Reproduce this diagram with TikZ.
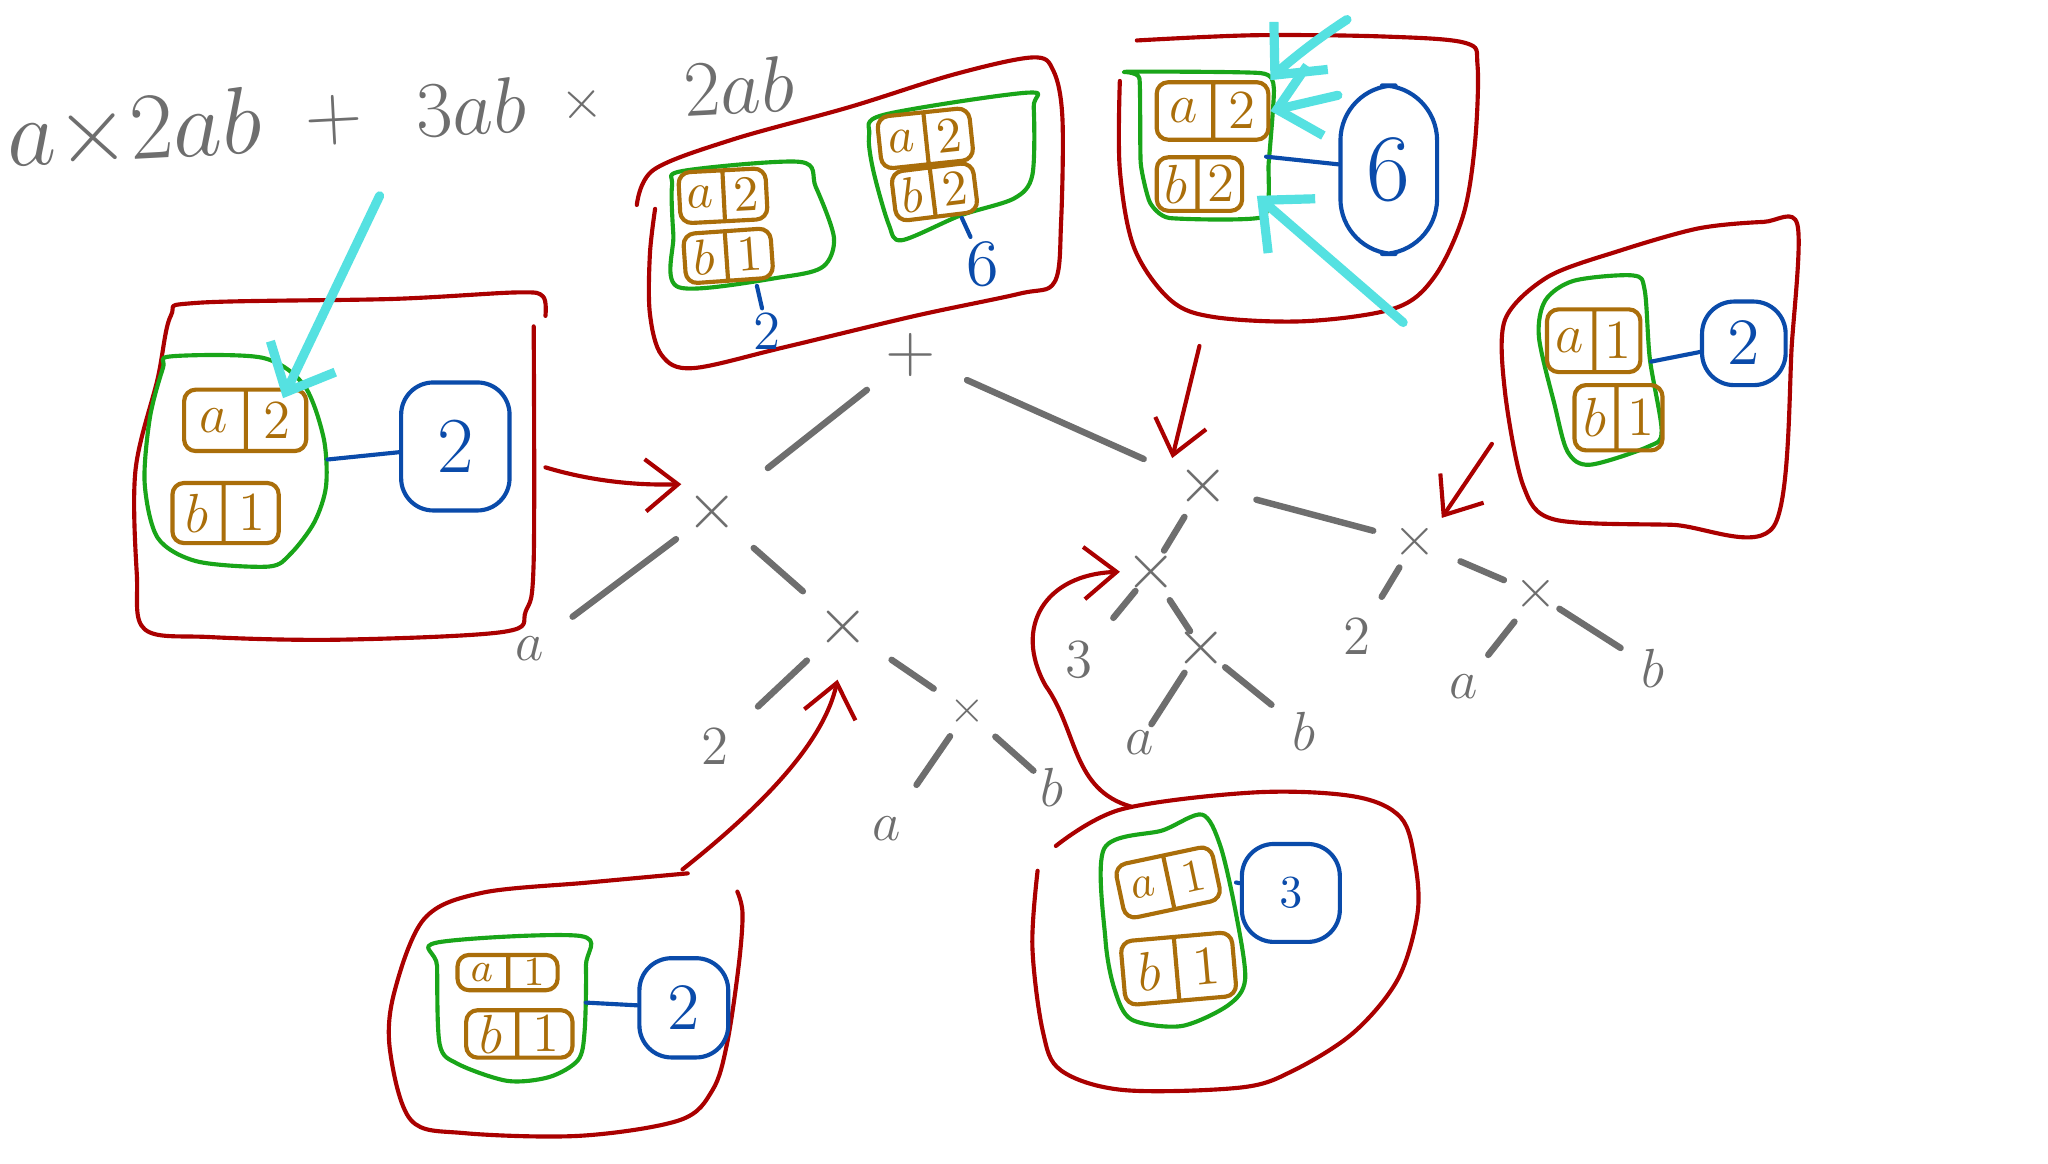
\documentclass[tikz,border=0pt]{standalone}
\usetikzlibrary{arrows.meta,shapes.multipart}

\definecolor{inkred}{RGB}{170,0,0}
\definecolor{inkgreen}{RGB}{25,165,25}
\definecolor{inkbrown}{RGB}{170,110,10}
\definecolor{inkblue}{RGB}{10,75,170}
\definecolor{inkcyan}{RGB}{85,225,225}
\definecolor{inkgray}{RGB}{110,110,110}

\begin{document}
\begin{tikzpicture}
[
	x=0.01cm, y=-0.01cm,
	ink/.style={line width=0.9pt, line cap=round, line join=round},
	expr/.style={text=inkgray, inner sep=1pt, rotate=3, font=\fontsize{18}{18}\selectfont},
	op/.style={text=inkgray, inner sep=1pt, font=\fontsize{15}{15}\selectfont},
	leaf/.style={text=inkgray, inner sep=1pt, font=\fontsize{13}{13}\selectfont},
	branch/.style={draw=inkgray, line width=1.4pt, line cap=round},
	tbl/.style={rectangle split, rectangle split horizontal, rectangle split parts=2,
		draw=inkbrown, text=inkbrown, ink, rounded corners=2.5pt, inner xsep=0.08cm,
		inner ysep=1pt, minimum height=0.42cm, font=\fontsize{12}{12}\selectfont},
	grp/.style={draw=inkgreen, ink},
	wrap/.style={draw=inkred, ink},
	coef/.style={draw=inkblue, text=inkblue, ink, rounded corners=7pt, inner sep=1pt},
	bare/.style={text=inkblue, inner sep=1pt},
	link/.style={draw=inkblue, ink},
	pointer/.style={draw=inkred, ink, -{Straight Barb[length=2.5mm,width=4mm]}},
	hint/.style={draw=inkcyan, line width=2pt, line cap=round, -{Straight Barb[length=3mm,width=5.5mm]}}
]

	\fill[white] (0,0) rectangle (1568,891);

	% expression
	\node[expr, font=\fontsize{21}{21}\selectfont] (e1) at (102,100) {$a{\times}2ab$};
	\node[expr] (e2) at (255,92) {$+$};
	\node[expr] (e3) at (360,82) {$3ab$};
	\node[expr, font=\fontsize{12}{12}\selectfont] (e4) at (445,80) {$\times$};
	\node[expr] (e5) at (565,66) {$2ab$};

	% tree
	\node[op] (plus) at (697,272) {$+$};
	\node[op] (lx) at (545,392) {$\times$};
	\node[op] (rx) at (921,372) {$\times$};
	\node[leaf] (la) at (405,497) {$a$};
	\node[op] (mx) at (645,480) {$\times$};
	\node[leaf] (mtwo) at (547,572) {$2$};
	\node[op, font=\fontsize{10}{10}\selectfont] (sx) at (740,545) {$\times$};
	\node[leaf] (sa) at (678,635) {$a$};
	\node[leaf] (sb) at (805,603) {$b$};
	\node[op] (lox) at (881,438) {$\times$};
	\node[leaf] (three) at (826,505) {$3$};
	\node[op] (kx) at (919,496) {$\times$};
	\node[leaf] (ka) at (872,569) {$a$};
	\node[leaf] (kb) at (998,560) {$b$};
	\node[op, font=\fontsize{12}{12}\selectfont] (qx) at (1083,415) {$\times$};
	\node[leaf] (qtwo) at (1039,488) {$2$};
	\node[op, font=\fontsize{12}{12}\selectfont] (wx) at (1176,455) {$\times$};
	\node[leaf] (wa) at (1120,526) {$a$};
	\node[leaf] (wb) at (1265,512) {$b$};

	\foreach \a/\b/\s/\e in {plus/lx/4.3/5.4, plus/rx/4.7/5.0, lx/la/3.5/4.1, lx/mx/4.2/4.1,
		mx/mtwo/3.8/4.5, mx/sx/4.5/3.1, sx/sa/2.3/4.1, sx/sb/2.9/1.9,
		rx/lox/2.8/1.9, rx/qx/4.2/3.3, lox/three/1.9/4.1, lox/kx/2.6/1.5,
		kx/ka/2.3/1.7, kx/kb/2.4/3.2, qx/qtwo/2.3/3.6, qx/wx/3.8/2.7,
		wx/wa/2.7/3.1, wx/wb/2.1/2.9}
		\draw[branch, shorten <=\s mm, shorten >=\e mm] (\a.center) -- (\b.center);

	% left box
	\draw[wrap] plot[smooth, tension=0.55] coordinates {(417,242) (415,227) (395,224) (300,229) (150,232) (130,242) (120,290) (103,360) (104,440) (110,482) (160,488) (260,490) (385,484) (402,468) (408,430) (408,250)};
	\draw[grp] plot[smooth cycle, tension=0.5] coordinates {(130,273) (200,274) (232,295) (247,335) (249,372) (240,400) (222,424) (205,434) (150,430) (120,412) (110,370) (114,320) (124,282)};
	\node[tbl, inner xsep=0.12cm, minimum height=0.47cm, font=\fontsize{13}{13}\selectfont] (tLa) at (187,322) {$a$\nodepart{two}$2$};
	\node[tbl, inner xsep=0.1cm, minimum height=0.46cm, font=\fontsize{13}{13}\selectfont] (tLb) at (172,393) {$b$\nodepart{two}$1$};
	\node[coef, minimum width=0.83cm, minimum height=0.98cm, font=\fontsize{18}{18}\selectfont] (cL) at (348,342) {$2$};
	\coordinate (gL) at (250,352);
	\draw[link] (gL) -- (cL);

	% top middle box
	\draw[wrap] plot[smooth, tension=0.55] coordinates {(487,157) (500,130) (560,107) (650,82) (730,57) (790,44) (806,54) (813,90) (812,170) (807,216) (780,225) (700,242) (600,266) (530,282) (506,272) (497,240) (497,195) (501,160)};
	\draw[grp] plot[smooth cycle, tension=0.5] coordinates {(522,131) (612,124) (624,143) (638,182) (630,204) (600,212) (519,220) (515,180) (514,142)};
	\node[tbl, rotate=3, inner xsep=0.06cm, minimum height=0.39cm, font=\fontsize{11}{11}\selectfont] (tMa) at (553,150) {$a$\nodepart{two}$2$};
	\node[tbl, rotate=4, inner xsep=0.07cm, minimum height=0.38cm, font=\fontsize{11}{11}\selectfont] (tMb) at (557,196) {$b$\nodepart{two}$1$};
	\node[bare, font=\fontsize{13}{13}\selectfont] (cTa) at (587,254) {$2$};
	\coordinate (gTa) at (579,219);
	\draw[link] (gTa) -- (cTa);
	\draw[grp] plot[smooth cycle, tension=0.5] coordinates {(676,88) (786,71) (791,82) (790,134) (776,152) (735,165) (690,184) (680,172) (668,130) (665,103)};
	\node[tbl, rotate=6, inner xsep=0.07cm, minimum height=0.40cm, font=\fontsize{11}{11}\selectfont] (tNa) at (708,106) {$a$\nodepart{two}$2$};
	\node[tbl, rotate=7, inner xsep=0.06cm, minimum height=0.38cm, font=\fontsize{11}{11}\selectfont] (tNb) at (715,147) {$b$\nodepart{two}$2$};
	\node[bare, font=\fontsize{14}{14}\selectfont] (cTb) at (752,202) {$6$};
	\coordinate (gTb) at (736,167);
	\draw[link] (gTb) -- (cTb);

	% top right box
	\draw[wrap] plot[smooth, tension=0.55] coordinates {(870,31) (960,27) (1060,28) (1122,33) (1131,50) (1129,110) (1120,165) (1098,212) (1068,236) (1000,246) (930,243) (896,230) (868,190) (857,130) (857,62)};
	\draw[grp] plot[smooth cycle, tension=0.3] coordinates {(862,55) (965,56) (975,68) (971,125) (967,166) (895,167) (880,155) (873,125) (872,60)};
	\node[tbl, inner xsep=0.1cm, minimum height=0.44cm] (tTa) at (928,85) {$a$\nodepart{two}$2$};
	\node[tbl, inner xsep=0.06cm, minimum height=0.41cm] (tTb) at (918,141) {$b$\nodepart{two}$2$};
	\node[coef, rounded corners=12pt, minimum width=0.74cm, minimum height=1.29cm, font=\fontsize{21}{21}\selectfont] (cTR) at (1063,130) {$6$};
	\coordinate (gT) at (969,120);
	\draw[link] (gT) -- (cTR);

	% right box
	\draw[wrap] plot[smooth cycle, tension=0.5] coordinates {(1376,172) (1372,260) (1358,403) (1280,402) (1190,398) (1166,372) (1152,300) (1152,245) (1185,212) (1240,192) (1300,175) (1350,170)};
	\draw[grp] plot[smooth cycle, tension=0.5] coordinates {(1250,211) (1259,222) (1263,275) (1272,330) (1262,342) (1217,356) (1200,346) (1190,310) (1178,258) (1183,230) (1205,215)};
	\node[tbl, inner xsep=0.065cm, minimum height=0.48cm] (tRa) at (1220,261) {$a$\nodepart{two}$1$};
	\node[tbl, inner xsep=0.065cm, minimum height=0.50cm] (tRb) at (1239,320) {$b$\nodepart{two}$1$};
	\node[coef, minimum width=0.64cm, minimum height=0.64cm, font=\fontsize{15}{15}\selectfont] (cR) at (1335,263) {$2$};
	\coordinate (gR) at (1264,277);
	\draw[link] (gR) -- (cR);

	% bottom left box
	\draw[wrap] plot[smooth, tension=0.55] coordinates {(526,669) (450,676) (368,684) (324,704) (301,761) (298,805) (314,858) (355,868) (444,870) (520,858) (545,835) (556,800) (565,740) (568,700) (564,683)};
	\draw[grp] plot[smooth cycle, tension=0.5] coordinates {(334,722) (444,717) (448,740) (447,790) (442,812) (420,825) (388,828) (350,815) (336,800) (334,740)};
	\node[tbl, inner xsep=0.1cm, inner ysep=0pt, minimum height=0.27cm, font=\fontsize{9}{9}\selectfont] (tBa) at (388,745) {$a$\nodepart{two}$1$};
	\node[tbl, inner xsep=0.1cm, minimum height=0.35cm] (tBb) at (397,792) {$b$\nodepart{two}$1$};
	\node[coef, minimum width=0.68cm, minimum height=0.76cm, font=\fontsize{14}{14}\selectfont] (cBL) at (523,772) {$2$};
	\coordinate (gB) at (448,768);
	\draw[link] (gB) -- (cBL);

	% bottom right box
	\draw[wrap] plot[smooth, tension=0.55] coordinates {(808,648) (858,620) (960,607) (1036,610) (1072,626) (1083,660) (1085,700) (1070,750) (1036,791) (990,820) (950,833) (860,835) (812,820) (798,790) (790,725) (794,667)};
	\draw[grp] plot[smooth cycle, tension=0.5] coordinates {(845,650) (890,636) (920,624) (934,648) (946,700) (953,750) (940,770) (904,786) (866,781) (853,758) (846,720)};
	\node[tbl, rotate=12, inner xsep=0.09cm, minimum height=0.42cm, font=\fontsize{10}{10}\selectfont] (tCa) at (894,676) {$a$\nodepart{two}$1$};
	\node[tbl, rotate=5, inner xsep=0.11cm, minimum height=0.49cm] (tCb) at (902,742) {$b$\nodepart{two}$1$};
	\node[coef, minimum width=0.75cm, minimum height=0.75cm, font=\fontsize{10}{10}\selectfont] (cBR) at (988,684) {$3$};
	\coordinate (gC) at (946,676);
	\draw[link] (gC) -- (cBR);

	% red arrows
	\coordinate (aL) at (417,358);
	\coordinate (aT) at (918,265);
	\coordinate (aR) at (1142,340);
	\coordinate (aB) at (522,666);
	\coordinate (aC) at (866,618);
	\draw[pointer] (aL) .. controls (450,368) and (485,372) .. (lx.north west);
	\draw[pointer] (aT) -- (rx.north west);
	\draw[pointer] (aR) -- (qx.north east);
	\draw[pointer, shorten >=2mm] (aB) .. controls (580,620) and (630,570) .. (mx.south);
	\draw[pointer] (aC) .. controls (820,605) and (825,560) .. (800,525) .. controls (775,480) and (800,440) .. (lox.west);

	% cyan arrows
	\coordinate (hL) at (290,150);
	\coordinate (hLt) at (216,305);
	\draw[hint] (hL) -- (hLt);
	\coordinate (h1) at (1031,15);
	\coordinate (h2) at (1024,73);
	\coordinate (h3) at (1074,247);
	\coordinate (h3t) at (962,150);
	\draw[hint] (h1) .. controls (1000,35) and (978,55) .. (tTa.north east);
	\draw[hint] (h2) -- (tTa.east);
	\draw[hint] (h3) -- (h3t);

\end{tikzpicture}
\end{document}
